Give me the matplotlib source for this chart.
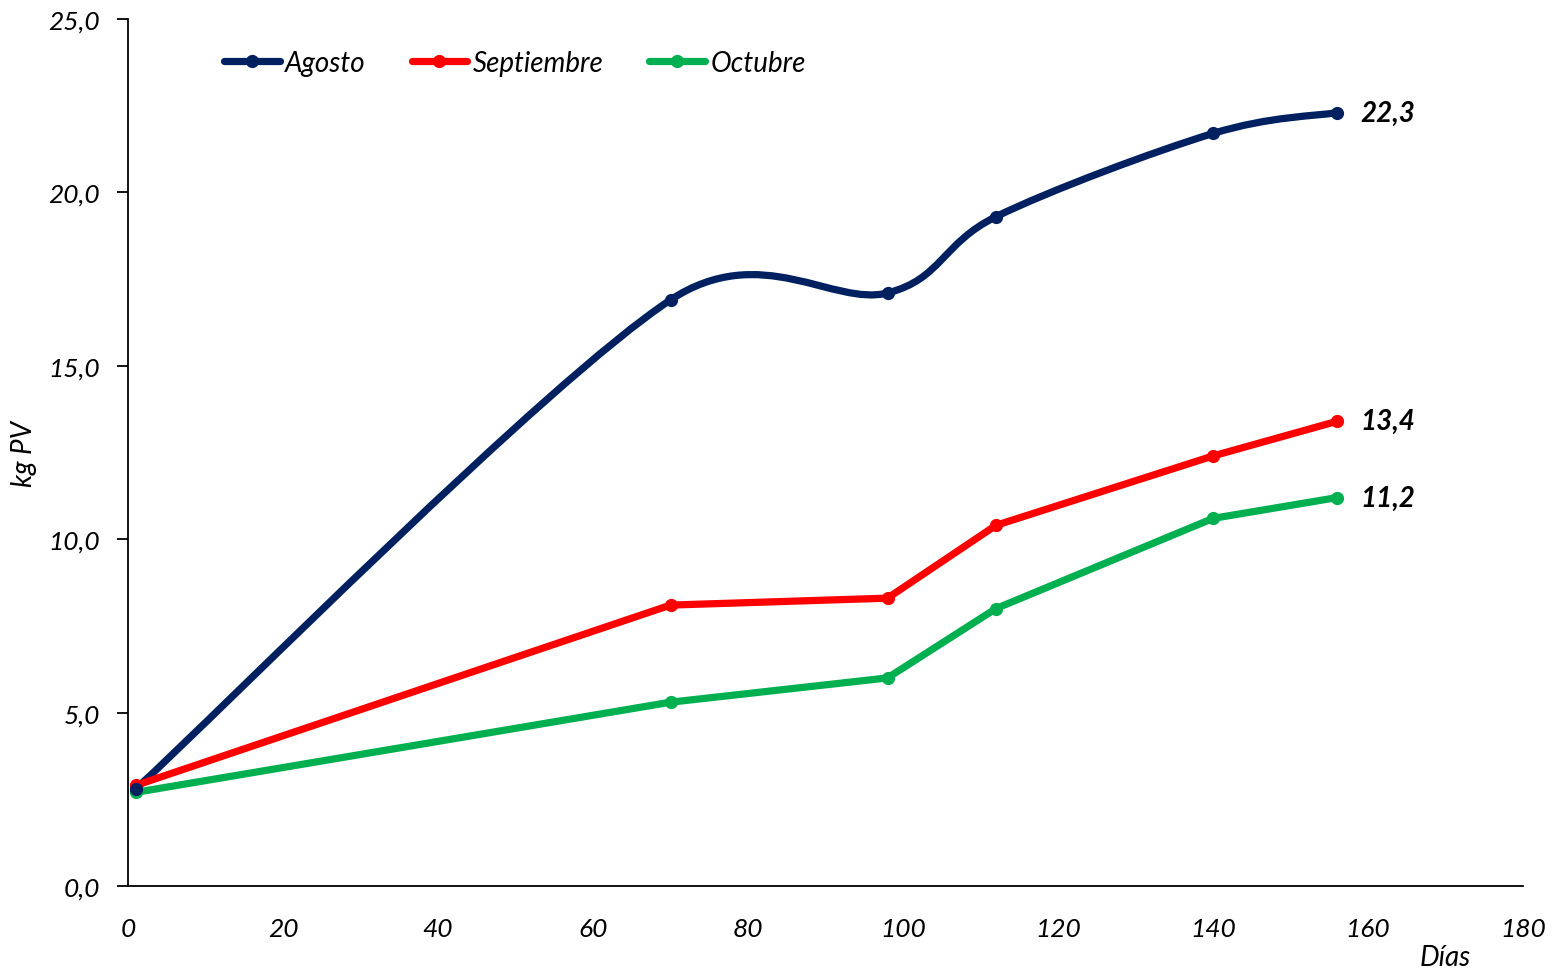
import matplotlib
matplotlib.use("Agg")
import matplotlib.pyplot as plt
from matplotlib.path import Path
from matplotlib.patches import PathPatch
from matplotlib.lines import Line2D
from matplotlib.ticker import FuncFormatter
import numpy as np

plt.rcParams['font.family'] = ['Lato', 'DejaVu Sans']

dias = [1, 70, 98, 112, 140, 156]
agosto = [2.8, 16.9, 17.1, 19.3, 21.7, 22.3]
septiembre = [2.9, 8.1, 8.3, 10.4, 12.4, 13.4]
octubre = [2.7, 5.3, 6.0, 8.0, 10.6, 11.2]

series = [
    ("Agosto", agosto, "#002060", True),
    ("Septiembre", septiembre, "#ff0000", False),
    ("Octubre", octubre, "#00b050", False),
]

LW = 5.2
MS = 8.5


def smooth_path(ax, x, y):
    # spreadsheet-style smoothing: bezier legs of 1/6 the neighbour chord,
    # capped at half the segment length, built in display space
    trans = ax.transData
    pts = trans.transform(np.column_stack([x, y]).astype(float))
    n = len(pts)
    verts = [pts[0]]
    codes = [Path.MOVETO]
    for i in range(n - 1):
        p0 = pts[i - 1] if i > 0 else pts[i]
        p1 = pts[i]
        p2 = pts[i + 1]
        p3 = pts[i + 2] if i + 2 < n else pts[i + 1]
        half = np.hypot(*(p2 - p1)) / 2.0
        leg1 = (p2 - p0) / 6.0
        leg2 = (p3 - p1) / 6.0
        for leg in (leg1, leg2):
            ln = np.hypot(*leg)
            if ln > half:
                leg *= half / ln
        verts += [p1 + leg1, p2 - leg2, p2]
        codes += [Path.CURVE4] * 3
    verts = trans.inverted().transform(np.array(verts))
    return Path(verts, codes)


fig = plt.figure(figsize=(15.61, 9.70), dpi=100)
ax = fig.add_axes([128 / 1561, 83 / 970, 1395 / 1561, 867 / 970])
ax.set_xlim(0, 180)
ax.set_ylim(0, 25)

handles = []
for name, vals, color, smooth in series:
    if smooth:
        ax.add_patch(PathPatch(smooth_path(ax, dias, vals), facecolor='none',
                               edgecolor=color, lw=LW, capstyle='round',
                               joinstyle='round', zorder=3))
        ax.plot(dias, vals, ls='none', marker='o', ms=MS, color=color, zorder=4)
    else:
        ax.plot(dias, vals, color=color, lw=LW, marker='o', ms=MS,
                solid_capstyle='round', solid_joinstyle='round', zorder=3)
    handles.append(Line2D([], [], color=color, lw=LW, marker='o', ms=MS,
                          solid_capstyle='round'))
    ax.text(dias[-1] + 3, vals[-1], f"{vals[-1]:.1f}".replace('.', ','),
            fontsize=20, fontweight='bold', fontstyle='italic',
            va='center', ha='left')

ax.set_xticks(np.arange(0, 181, 20))
ax.set_yticks(np.arange(0, 25.1, 5))
ax.yaxis.set_major_formatter(FuncFormatter(lambda v, p: f"{v:.1f}".replace('.', ',')))

for s in ['top', 'right']:
    ax.spines[s].set_visible(False)
for s in ['left', 'bottom']:
    ax.spines[s].set_linewidth(1.3)

ax.tick_params(axis='y', direction='out', length=8, width=1.3, pad=12, labelsize=19)
ax.tick_params(axis='x', length=0, pad=22, labelsize=19)
for lab in ax.get_xticklabels() + ax.get_yticklabels():
    lab.set_fontstyle('italic')

ax.set_ylabel("kg PV", fontsize=20, fontstyle='italic')
ax.yaxis.set_label_coords(-91 / 1395, 0.5)
fig.text(1445 / 1561, 1 - 958 / 970, "Días", fontsize=20, fontstyle='italic',
         ha='center', va='center')

fig.legend(handles, [s[0] for s in series], ncol=3, frameon=False,
           loc='center left', bbox_to_anchor=(199 / 1561, 1 - 64 / 970),
           handlelength=2.0, handletextpad=0.2, columnspacing=1.65,
           prop={'style': 'italic', 'size': 20})

fig.savefig("out.png", dpi=100)
